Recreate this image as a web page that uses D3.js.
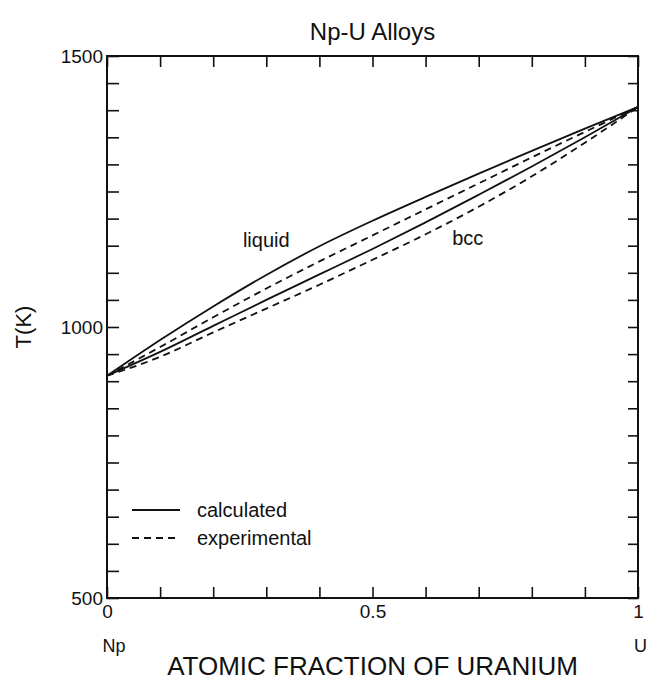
<!DOCTYPE html>
<html>
<head>
<meta charset="utf-8">
<script src="https://cdn.jsdelivr.net/npm/d3@7"></script>
<style>
  html, body { margin: 0; padding: 0; background: #fff; }
  svg { display: block; }
  text { font-family: "Liberation Sans", Arial, Helvetica, sans-serif; fill: #111; }
</style>
</head>
<body>
<svg id="chart" width="648" height="681"></svg>
<script>
// ---- data ----
const fraction      = [0, 0.1, 0.2, 0.3, 0.4, 0.5, 0.6, 0.7, 0.8, 0.9, 1.0];
const liquidusCalc  = [910, 976, 1038, 1096, 1149, 1196, 1240, 1283, 1325, 1366, 1406];
const liquidusExp   = [910, 963, 1018, 1071, 1121, 1169, 1217, 1265, 1313, 1360, 1406];
const solidusCalc   = [910, 954, 1002, 1050, 1097, 1144, 1193, 1244, 1296, 1350, 1406];
const solidusExp    = [910, 945, 990, 1034, 1078, 1124, 1171, 1222, 1278, 1340, 1406];
const yTicks        = d3.range(500, 1501, 50);
const yTickLabels   = [500, 1000, 1500];
const xTicks        = d3.range(11).map(i => i / 10);
const xTickLabels   = { 0: "0", 0.5: "0.5", 1: "1" };
const title         = "Np-U Alloys";
const xTitle        = "ATOMIC FRACTION OF URANIUM";
const yTitle        = "T(K)";
const phaseLabels   = [{ text: "liquid", f: 0.256, t: 1147 }, { text: "bcc", f: 0.65, t: 1152 }];
const legendItems   = [{ label: "calculated", dashed: false }, { label: "experimental", dashed: true }];

// ---- layout ----
const L = 107, R = 638, T = 56, B = 598;
const svg = d3.select("#chart");
const x = d3.scaleLinear().domain([0, 1]).range([L, R]);
const y = d3.scaleLinear().domain([500, 1500]).range([B, T]);

// frame
svg.append("rect").attr("x", L).attr("y", T).attr("width", R - L).attr("height", B - T)
  .attr("fill", "none").attr("stroke", "#111").attr("stroke-width", 2);

const styleAxis = g => {
  g.select(".domain").remove();
  g.selectAll(".tick line").attr("stroke", "#111").attr("stroke-width", 1.6);
  g.selectAll("text").attr("fill", "#111").style("font-family", "'Liberation Sans', Arial, sans-serif");
};

svg.append("g").attr("transform", `translate(${L},0)`)
  .call(d3.axisLeft(y).tickValues(yTicks).tickSize(-12).tickPadding(4)
    .tickFormat(d => yTickLabels.includes(d) ? String(d) : ""))
  .call(styleAxis)
  .selectAll("text").style("font-size", "19px");

svg.append("g").attr("transform", `translate(${R},0)`)
  .call(d3.axisRight(y).tickValues(yTicks).tickSize(-10).tickFormat(""))
  .call(styleAxis);

svg.append("g").attr("transform", `translate(0,${B})`)
  .call(d3.axisBottom(x).tickValues(xTicks).tickSize(-11).tickPadding(7)
    .tickFormat(d => xTickLabels[d] !== undefined ? xTickLabels[d] : ""))
  .call(styleAxis)
  .selectAll("text").style("font-size", "19px");

svg.append("g").attr("transform", `translate(0,${T})`)
  .call(d3.axisTop(x).tickValues(xTicks).tickSize(-11).tickFormat(""))
  .call(styleAxis);

// curves
const line = d3.line().x((d, i) => x(fraction[i])).y(d => y(d)).curve(d3.curveMonotoneX);
const series = [
  { v: liquidusCalc, dashed: false },
  { v: liquidusExp, dashed: true },
  { v: solidusCalc, dashed: false },
  { v: solidusExp, dashed: true }
];
svg.append("g").selectAll("path").data(series).join("path")
  .attr("d", d => line(d.v))
  .attr("fill", "none").attr("stroke", "#111").attr("stroke-width", 1.8)
  .attr("stroke-dasharray", d => d.dashed ? "7,5" : null);

// phase labels
svg.append("g").selectAll("text").data(phaseLabels).join("text")
  .attr("x", d => x(d.f)).attr("y", d => y(d.t))
  .style("font-size", "20px").text(d => d.text);

// legend
const lg = svg.append("g").selectAll("g").data(legendItems).join("g")
  .attr("transform", (d, i) => `translate(132,${510 + i * 28})`);
lg.append("line").attr("x1", 0).attr("x2", 48).attr("y1", 0).attr("y2", 0)
  .attr("stroke", "#111").attr("stroke-width", 1.8)
  .attr("stroke-dasharray", d => d.dashed ? "7,5" : null);
lg.append("text").attr("x", 65).attr("y", 7).style("font-size", "20px").text(d => d.label);

// titles
svg.append("text").attr("x", (L + R) / 2).attr("y", 40).attr("text-anchor", "middle")
  .style("font-size", "24px").text(title);
svg.append("text").attr("x", (L + R) / 2).attr("y", 675).attr("text-anchor", "middle")
  .style("font-size", "26px").text(xTitle);
svg.append("text").attr("transform", `translate(31,${y(1000)}) rotate(-90)`)
  .attr("text-anchor", "middle").style("font-size", "22px").text(yTitle);
svg.append("text").attr("x", 114).attr("y", 652).attr("text-anchor", "middle")
  .style("font-size", "18px").text("Np");
svg.append("text").attr("x", 634).attr("y", 652)
  .style("font-size", "18px").text("U");
</script>
</body>
</html>
